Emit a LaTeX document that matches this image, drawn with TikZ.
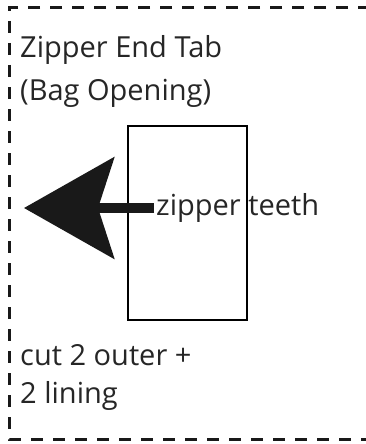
\documentclass[tikz,border=0pt]{standalone}
\usepackage{fontspec}
\setmainfont{Open Sans}
\usetikzlibrary{arrows.meta}
\tikzset{
	cutline/.style={line width=3pt,dash pattern=on 12pt off 10pt,black!90},
	label text/.style={anchor=base west,inner sep=0pt,font=\fontsize{29}{35}\selectfont,text=black!85},
}
\begin{document}
\begin{tikzpicture}[x=1pt,y=-1pt]
		\useasboundingbox (0,0) rectangle (366,444);
		% cutting line, open on the right
		\draw[cutline] (370,8) -- (9,8) -- (9,439) -- (370,439);
		\node[label text] (title) at (20,58) {Zipper End Tab};
		\node[label text] (title2) at (20,100) {(Bag Opening)};
		\node[draw,line width=1.5pt,minimum width=119pt,minimum height=194pt,inner sep=0pt] (tab) at (187.5,223) {};
		\node[anchor=west,inner sep=2pt,font=\fontsize{29}{35}\selectfont,text=black!85] (teeth) at (154,208) {zipper teeth};
		\coordinate (tip) at (24,208);
		\draw[line width=10pt,-{Stealth[length=90pt,width=101pt,inset=16pt]},black!90] (teeth.west) -- (tip);
		\node[label text] (cut) at (20,365) {cut 2 outer +};
		\node[label text] (cut2) at (20,403) {2 lining};
	\end{tikzpicture}
\end{document}
